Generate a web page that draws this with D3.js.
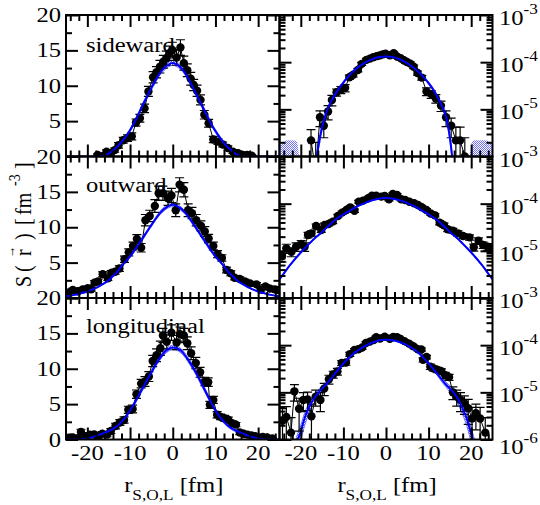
<!DOCTYPE html>
<html><head><meta charset="utf-8">
<script src="https://cdn.jsdelivr.net/npm/d3@7"></script>
<style>body{margin:0;background:#fff}svg{display:block}</style>
</head><body><svg id="c" width="540" height="505"></svg>
<script>
// ---------------- data (S in units of 1e-5 fm^-3) ----------------
const rowNames = ["sideward", "outward", "longitudinal"];

const sideR = [-17.6,-16.5,-15.5,-14.6,-13.6,-12.7,-11.6,-10.6,-9.6,-8.6,-7.7,-6.6,-5.7,-4.6,-3.8,-3.0,-2.2,-1.5,-0.8,-0.1,0.9,1.8,2.6,3.4,4.2,4.9,5.7,6.5,7.4,8.4,9.5,10.6,11.7,12.9,14.1,15.3,16.4,17.4,18.5];
const sideS = [0.22,0.05,0.68,0.45,0.9,1.58,2.3,2.6,2.85,4.8,5.4,6.8,9.2,11.2,11.9,12.7,13.4,13.9,14.6,15.05,14.0,15.4,13.2,12.2,11.0,10.1,9.3,8.0,5.9,4.7,2.4,2.1,1.7,1.2,0.68,0.45,0.22,0.22,0.1];
const sideE = [0.15,0.15,0.25,0.2,0.3,0.4,0.4,0.45,0.5,0.5,0.55,0.6,0.7,0.8,0.8,0.9,0.9,1.0,1.0,1.1,1.1,1.1,1.0,0.9,0.9,0.8,0.8,0.7,0.6,0.55,0.45,0.4,0.35,0.3,0.25,0.2,0.2,0.2,0.15];

const outR = [-24.4,-23.4,-22.2,-21.1,-19.9,-19.1,-18.3,-17.5,-16.4,-15.2,-14.4,-13.5,-12.5,-11.3,-10.3,-9.3,-8.4,-7.4,-6.4,-5.4,-4.2,-3.3,-2.3,-1.1,-0.3,0.7,1.6,2.6,3.6,4.5,5.5,6.6,7.5,8.4,9.5,10.5,11.5,12.6,13.6,14.5,15.7,16.9,18.1,19.6,20.6,21.7,22.8,23.9,24.7];
const outS = [0.78,1.13,0.95,1.22,1.40,1.22,2.17,2.35,3.36,2.77,3.53,3.71,4.16,5.48,6.45,7.35,8.36,7.1,11.0,11.6,13.0,14.8,14.8,14.1,14.5,12.4,16.0,15.3,12.4,12.0,11.0,10.2,9.4,8.4,7.35,6.2,5.66,3.95,3.5,2.86,2.68,2.35,2.07,1.93,1.19,1.64,1.33,1.22,1.13];
const outE = [0.2,0.25,0.2,0.25,0.25,0.25,0.3,0.3,0.35,0.3,0.35,0.35,0.4,0.45,0.5,0.55,0.6,0.6,0.8,0.8,0.9,1.0,1.0,1.0,1.0,0.9,1.0,1.0,0.9,0.8,0.8,0.7,0.7,0.6,0.55,0.5,0.45,0.4,0.35,0.3,0.3,0.3,0.25,0.25,0.2,0.25,0.2,0.2,0.2];

const longR = [-24.3,-23.4,-22.3,-21.5,-20.4,-19.4,-18.4,-17.5,-16.5,-15.4,-14.5,-13.4,-12.4,-11.4,-10.4,-9.4,-8.5,-7.4,-6.5,-5.6,-4.7,-3.8,-2.9,-2.3,-1.4,-0.3,0.9,1.7,2.6,3.4,4.3,5.4,6.4,7.5,8.3,8.7,9.5,10.4,11.2,12.1,13.0,13.9,14.8,15.7,16.6,17.5,18.4,19.3,20.2,21.1,22.1,23.3];
const longS = [0.25,0.3,0.14,1.05,0.45,0.69,0.71,0.31,0.81,0.69,1.2,1.9,2.4,2.76,4.2,4.3,6.4,7.9,8.2,8.9,11.1,11.9,12.9,14.7,13.8,15.1,13.7,14.9,14.7,13.6,12.2,10.8,9.5,8.2,8.1,4.9,5.6,3.5,3.2,3.0,2.8,2.3,2.1,1.0,0.81,0.69,0.59,0.46,0.28,0.36,0.28,0.14];
const longE = [0.2,0.2,0.15,0.4,0.3,0.3,0.3,0.25,0.3,0.3,0.35,0.4,0.4,0.45,0.5,0.55,0.6,0.6,0.7,0.7,0.8,0.9,1.0,1.0,1.0,1.1,1.0,1.0,1.0,0.9,0.9,0.8,0.7,0.6,0.6,0.5,0.5,0.45,0.4,0.4,0.35,0.35,0.3,0.3,0.3,0.3,0.25,0.25,0.2,0.2,0.2,0.15];

// fitted curves, sampled at r = -25 ... 25 (step 1 fm)
const fitR = [-25,-24,-23,-22,-21,-20,-19,-18,-17,-16,-15,-14,-13,-12,-11,-10,-9,-8,-7,-6,-5,-4,-3,-2,-1,0,1,2,3,4,5,6,7,8,9,10,11,12,13,14,15,16,17,18,19,20,21,22,23,24,25];
const fitSide = [0.001,0.001,0.001,0.001,0.001,0.001,0.002,0.005,0.03,0.14,0.42,0.85,1.4,2.05,2.8,3.7,4.8,6.0,7.3,8.5,9.7,10.8,11.8,12.5,13.0,13.2,13.0,12.5,11.7,10.6,9.4,8.2,7.0,5.8,4.6,3.6,2.7,1.9,1.25,0.75,0.25,0.04,0.008,0.002,0.001,0.001,0.001,0.001,0.001,0.001,0.001];
const fitOut = [0.25,0.33,0.44,0.57,0.73,0.92,1.15,1.42,1.75,2.1,2.5,3.1,3.7,4.5,5.2,5.9,6.7,7.6,8.5,9.4,10.3,11.2,12.0,12.6,13.0,13.2,13.0,12.6,12.0,11.2,10.3,9.4,8.5,7.6,6.7,5.9,5.2,4.5,3.7,3.1,2.5,2.1,1.75,1.42,1.15,0.92,0.73,0.57,0.44,0.33,0.25];
const fitLong = [0.001,0.003,0.01,0.03,0.08,0.15,0.3,0.5,0.72,0.95,1.2,1.5,1.9,2.5,3.2,4.1,5.1,6.2,7.3,8.4,9.5,10.6,11.5,12.3,12.8,13.0,12.9,12.5,11.8,10.9,9.9,8.8,7.6,6.4,5.2,4.1,3.2,2.5,1.9,1.5,1.2,0.95,0.7,0.45,0.27,0.13,0.06,0.02,0.008,0.003,0.001];
// relative half-width of each fit band
const bandSide = [0.6,0.55,0.5,0.45,0.4,0.35,0.3,0.26,0.22,0.18,0.15,0.12,0.1,0.08,0.07,0.06,0.05,0.045,0.04,0.035,0.03,0.03,0.025,0.025,0.025,0.025,0.025,0.025,0.025,0.03,0.03,0.035,0.04,0.045,0.05,0.06,0.07,0.08,0.1,0.12,0.15,0.18,0.22,0.26,0.3,0.35,0.4,0.45,0.5,0.55,0.6];
const bandOut = [0.03,0.03,0.03,0.03,0.03,0.03,0.03,0.03,0.03,0.03,0.03,0.03,0.03,0.03,0.03,0.03,0.03,0.03,0.03,0.02,0.02,0.02,0.02,0.02,0.02,0.02,0.02,0.02,0.02,0.02,0.02,0.02,0.03,0.03,0.03,0.03,0.03,0.03,0.03,0.03,0.03,0.03,0.03,0.03,0.03,0.03,0.03,0.03,0.03,0.03,0.03];
const bandLong = [0.6,0.55,0.5,0.45,0.4,0.35,0.3,0.26,0.22,0.18,0.15,0.12,0.1,0.08,0.07,0.06,0.05,0.045,0.04,0.035,0.03,0.03,0.025,0.025,0.025,0.025,0.025,0.025,0.025,0.03,0.03,0.035,0.04,0.045,0.05,0.06,0.07,0.08,0.1,0.12,0.15,0.18,0.22,0.26,0.3,0.35,0.4,0.45,0.5,0.55,0.6];

// hatched tail patches near the floor of the sideward log panel
const tailLeftR = [-25,-24.2,-23,-22,-21,-20.4];
const tailLeftS = [0.16,0.2,0.22,0.22,0.21,0.1];
const tailRightR = [19.6,20.2,21,22,23,24,25];
const tailRightS = [0.1,0.2,0.22,0.22,0.22,0.21,0.2];

const linTicks = [0,5,10,15,20];
const linMinor = [2.5,7.5,12.5,17.5];
const logExps = [-6,-5,-4,-3];
const xTicks = [-20,-10,0,10,20];
const xMinor = [-24,-22,-18,-16,-14,-12,-8,-6,-4,-2,2,4,6,8,12,14,16,18,22,24];

// ---------------- layout ----------------
const rows = [
  {R: sideR, S: sideS, E: sideE, F: fitSide, B: bandSide},
  {R: outR, S: outS, E: outE, F: fitOut, B: bandOut},
  {R: longR, S: longS, E: longE, F: fitLong, B: bandLong}
];
const colX = [[66, 279.5], [279.5, 492.5]];
const rowTop = [15, 156.5, 298], rowH = 141.5;
const FONT = "'Liberation Serif','Times New Roman',serif";
const SX = 1.23;
const BLUE = "#0000ff";

const svg = d3.select("#c");
svg.append("rect").attr("width", 540).attr("height", 505).attr("fill", "#fff");
const defs = svg.append("defs");
function hatch(id, col) {
  const p = defs.append("pattern").attr("id", id).attr("width", 2).attr("height", 2)
    .attr("patternUnits", "userSpaceOnUse");
  p.append("rect").attr("width", 1).attr("height", 1).attr("fill", col);
  p.append("rect").attr("x", 1).attr("y", 1).attr("width", 1).attr("height", 1).attr("fill", col);
}
hatch("hatch", "#3a3aff");
hatch("hatchL", "#6f6fff");

function stext(g, x, y, anchor, size) {
  return g.append("text")
    .attr("transform", `translate(${x},${y}) scale(${SX},1)`)
    .attr("text-anchor", anchor)
    .attr("font-family", FONT).attr("font-size", size).attr("fill", "#000");
}

const minorLog = [];
[-6, -5, -4].forEach(e => { for (let k = 2; k <= 9; k++) minorLog.push(k * Math.pow(10, e)); });

rows.forEach((row, i) => {
  const top = rowTop[i], bot = top + rowH;
  [0, 1].forEach(c => {
    const [x0, x1] = colX[c];
    const x = d3.scaleLinear([-25, 25], [x0, x1]);
    const y = c === 0 ? d3.scaleLinear([0, 20], [bot, top]) : d3.scaleLog([1e-6, 1e-3], [bot, top]);
    const yv = v => c === 0 ? y(v) : y(Math.max(v, 1e-5) * 1e-5);
    const id = `clip${i}${c}`;
    defs.append("clipPath").attr("id", id).append("rect")
      .attr("x", x0).attr("y", top).attr("width", x1 - x0).attr("height", rowH);
    const g = svg.append("g").attr("clip-path", `url(#${id})`);

    // fit band
    const band = fitR.map((r, k) => ({r, v: row.F[k], lo: row.F[k] * (1 - row.B[k]), hi: row.F[k] * (1 + row.B[k])}));
    g.append("path").datum(band)
      .attr("d", d3.area().x(d => x(d.r)).y0(d => yv(d.lo)).y1(d => yv(d.hi)).curve(d3.curveMonotoneX))
      .attr("fill", "url(#hatch)").attr("opacity", 0.8);
    ["lo", "hi"].forEach(key => {
      g.append("path").datum(band)
        .attr("d", d3.line().x(d => x(d.r)).y(d => yv(d[key])).curve(d3.curveMonotoneX))
        .attr("fill", "none").attr("stroke", "#5a5aff").attr("stroke-width", 0.8);
    });

    // data
    const pts = row.R.map((r, k) => ({r, v: row.S[k], e: row.E[k]}));
    const vis = c === 0 ? pts : pts.filter(d => d.v > 0);
    g.append("path").datum(vis)
      .attr("d", d3.line().x(d => x(d.r)).y(d => yv(d.v)))
      .attr("fill", "none").attr("stroke", "#000").attr("stroke-width", 1);
    const eb = g.append("g").attr("stroke", "#000").attr("stroke-width", 1.2);
    vis.forEach(d => {
      const ya = yv(d.v + d.e), yb = yv(d.v - d.e);
      const xp = x(d.r);
      eb.append("line").attr("x1", xp).attr("x2", xp).attr("y1", ya).attr("y2", yb);
      eb.append("line").attr("x1", xp - 4.5).attr("x2", xp + 4.5).attr("y1", ya).attr("y2", ya);
      eb.append("line").attr("x1", xp - 4.5).attr("x2", xp + 4.5).attr("y1", yb).attr("y2", yb);
    });
    g.selectAll("circle.p").data(vis).join("circle")
      .attr("cx", d => x(d.r)).attr("cy", d => yv(d.v)).attr("r", 4.2).attr("fill", "#000");

    // fit line
    g.append("path").datum(band)
      .attr("d", d3.line().x(d => x(d.r)).y(d => yv(d.v)).curve(d3.curveMonotoneX))
      .attr("fill", "none").attr("stroke", BLUE).attr("stroke-width", 2);

    if (i === 0 && c === 1) {
      const ar = d3.area().x(d => x(d.r)).y0(bot).y1(d => yv(d.v)).curve(d3.curveMonotoneX);
      [[tailLeftR, tailLeftS], [tailRightR, tailRightS]].forEach(([R, S]) => {
        svg.append("path").datum(R.map((r, k) => ({r, v: S[k]})))
          .attr("d", ar).attr("fill", "url(#hatchL)");
      });
    }

    // axes (inward ticks)
    const ax = svg.append("g");
    const yMaj = c === 0 ? linTicks : logExps.map(e => Math.pow(10, e));
    const yMin = c === 0 ? linMinor : minorLog;
    const addAxis = (axis, tr) => {
      const a = ax.append("g").attr("transform", tr).call(axis);
      a.select(".domain").remove();
      a.selectAll("line").attr("stroke", "#000").attr("stroke-width", 2);
      a.selectAll("text").remove();
    };
    [[yMaj, 12], [yMin, 6]].forEach(([vals, len]) => {
      addAxis(d3.axisLeft(y).tickValues(vals).tickSize(-len), `translate(${x0},0)`);
      addAxis(d3.axisRight(y).tickValues(vals).tickSize(-len), `translate(${x1},0)`);
    });
    [[xTicks, 12], [xMinor, 6]].forEach(([vals, len]) => {
      addAxis(d3.axisTop(x).tickValues(vals).tickSize(-len), `translate(0,${top})`);
      addAxis(d3.axisBottom(x).tickValues(vals).tickSize(-len), `translate(0,${bot})`);
    });
    ax.append("rect").attr("x", x0).attr("y", top).attr("width", x1 - x0).attr("height", rowH)
      .attr("fill", "none").attr("stroke", "#000").attr("stroke-width", 2);

    // tick labels
    if (c === 0) {
      linTicks.forEach(v => {
        if (v === 0 && i < 2) return;
        stext(svg, 61, y(v) + 7, "end", 20).text(v);
      });
    } else {
      logExps.forEach(e => {
        if (e === -6 && i < 2) return;
        const t = stext(svg, 499, y(Math.pow(10, e)) + (e === -6 ? 14 : 10), "start", 20);
        t.append("tspan").text("10");
        t.append("tspan").attr("font-size", 14).attr("dy", -11).text(e);
      });
    }
    if (i === 2) {
      xTicks.forEach(v => stext(svg, x(v), 460, "middle", 20).text(v));
      const xc = (x0 + x1) / 2 + 1;
      const t = stext(svg, xc, 492, "middle", 20);
      t.append("tspan").text("r");
      t.append("tspan").attr("font-size", 14).attr("dy", 8).text("S,O,L");
      t.append("tspan").attr("dy", -8).text("\u00a0[fm]");
    }
  });
  stext(svg, 86, [52, 192, 333][i], "start", 20).text(rowNames[i]);
});

// y-axis title, rotated
const yt = svg.append("g").attr("transform", "translate(31,287) rotate(-90) scale(1,1.2)")
  .attr("font-family", FONT).attr("font-size", 20).attr("fill", "#000");
[["S", 0], ["(", 15], ["r", 31], [")", 47], ["[", 62], ["fm", 72]].forEach(([s, p]) =>
  yt.append("text").attr("x", p).attr("y", 0).text(s));
yt.append("text").attr("x", 101).attr("y", -9).attr("font-size", 14).text("-3");
yt.append("text").attr("x", 118).attr("y", 0).text("]");
yt.append("text").attr("x", 29).attr("y", -13).attr("font-size", 12).text("\u2192");
</script></body></html>
